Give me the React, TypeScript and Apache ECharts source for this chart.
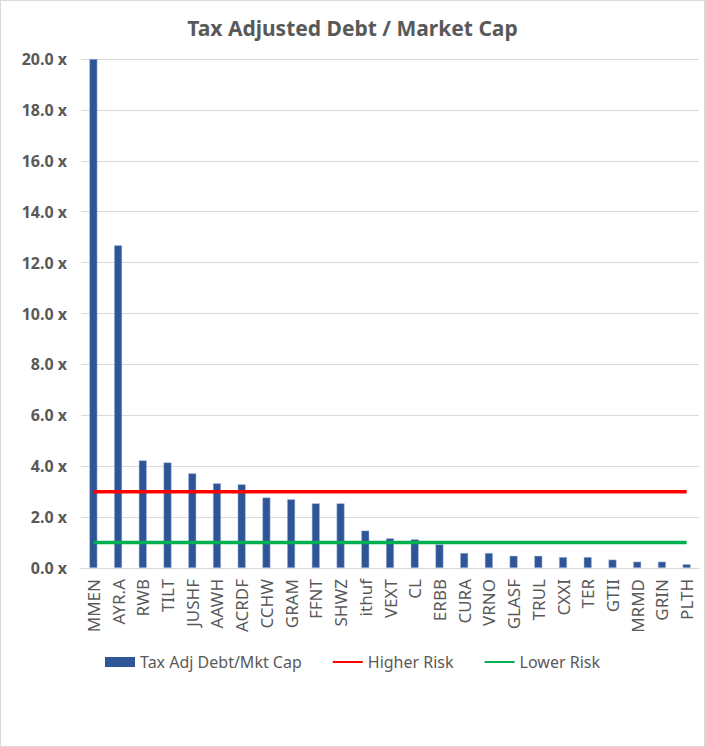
import React, { useEffect, useRef } from "react";
import * as echarts from "echarts";

const categories = ["MMEN","AYR.A","RWB","TILT","JUSHF","AAWH","ACRDF","CCHW","GRAM","FFNT","SHWZ","ithuf","VEXT","CL","ERBB","CURA","VRNO","GLASF","TRUL","CXXI","TER","GTII","MRMD","GRIN","PLTH"];
const debtToCap = [20.0,12.68,4.23,4.15,3.72,3.33,3.29,2.77,2.70,2.54,2.54,1.47,1.17,1.13,0.93,0.59,0.59,0.48,0.48,0.43,0.43,0.33,0.25,0.25,0.15];
const higherRisk = categories.map(() => 3.0);
const lowerRisk = categories.map(() => 1.0);

const FONT = "'Noto Sans', 'Open Sans', sans-serif";
const GRAY = "#595959";

export default function App() {
  const ref = useRef<HTMLDivElement>(null);
  useEffect(() => {
    const chart = echarts.init(ref.current!, null, { renderer: "svg" });
    chart.setOption({
      animation: false,
      backgroundColor: "#ffffff",
      textStyle: { fontFamily: FONT, color: GRAY },
      title: {
        text: "Tax Adjusted Debt / Market Cap",
        left: "center",
        top: 11,
        textStyle: { fontFamily: FONT, fontSize: 21, fontWeight: "bold", color: GRAY },
      },
      grid: { left: 80, right: 5, top: 58, bottom: 178, containLabel: false },
      legend: {
        bottom: 71,
        left: "center",
        itemWidth: 30,
        itemHeight: 10,
        itemGap: 30,
        textStyle: { fontFamily: FONT, fontSize: 16, color: GRAY },
        data: [
          { name: "Tax Adj Debt/Mkt Cap", icon: "rect", itemStyle: { borderWidth: 0 } },
          { name: "Higher Risk", itemStyle: { opacity: 0, borderWidth: 0 } },
          { name: "Lower Risk", itemStyle: { opacity: 0, borderWidth: 0 } },
        ],
      },
      xAxis: {
        type: "category",
        data: categories,
        axisTick: { show: false },
        axisLine: { show: true, lineStyle: { color: "#D9D9D9", width: 1 } },
        axisLabel: {
          rotate: 90,
          interval: 0,
          margin: 11,
          fontFamily: FONT,
          fontSize: 17,
          color: GRAY,
        },
      },
      yAxis: {
        type: "value",
        min: 0,
        max: 20,
        interval: 2,
        axisLine: { show: false },
        axisTick: { show: false },
        splitLine: { lineStyle: { color: "#D9D9D9", width: 1 } },
        axisLabel: {
          formatter: (v: number) => v.toFixed(1) + " x",
          fontFamily: FONT,
          fontSize: 16,
          fontWeight: "bold",
          color: GRAY,
          margin: 14,
        },
      },
      series: [
        {
          name: "Tax Adj Debt/Mkt Cap",
          type: "bar",
          data: debtToCap,
          barWidth: 8,
          itemStyle: { color: "#2F5597", borderColor: "#B4C7E7", borderWidth: 0.5 },
        },
        {
          name: "Higher Risk",
          type: "line",
          data: higherRisk,
          symbol: "none",
          lineStyle: { color: "#FF0000", width: 3.5 },
          itemStyle: { color: "#FF0000" },
        },
        {
          name: "Lower Risk",
          type: "line",
          data: lowerRisk,
          symbol: "none",
          lineStyle: { color: "#00B050", width: 3.5 },
          itemStyle: { color: "#00B050" },
        },
      ],
    });
    return () => chart.dispose();
  }, []);
  return (
    <div
      style={{
        position: "absolute",
        left: 0,
        top: 0,
        width: 705,
        height: 747,
        boxSizing: "border-box",
        border: "1px solid #D9D9D9",
        background: "#fff",
      }}
    >
      <div ref={ref} style={{ width: 703, height: 745 }} />
    </div>
  );
}
